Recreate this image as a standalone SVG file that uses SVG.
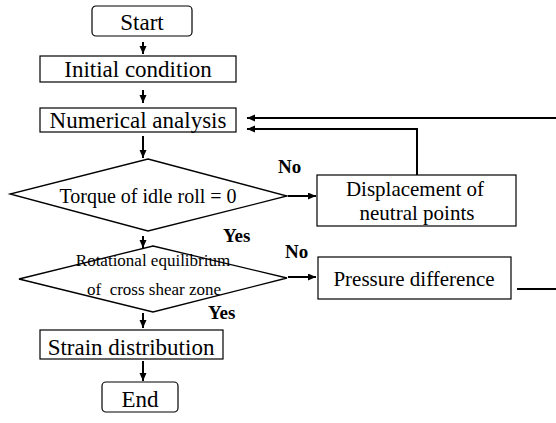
<svg xmlns="http://www.w3.org/2000/svg" width="556" height="423" viewBox="0 0 556 423">
<defs>
<marker id="ah" markerWidth="9" markerHeight="8" refX="8" refY="3.5" orient="auto" markerUnits="userSpaceOnUse">
<path d="M0,0 L8,3.5 L0,7 z" fill="#000"/>
</marker>
<style>
.box{fill:#fff;stroke:#000;stroke-width:1.2}
.dia{fill:#fff;stroke:#000;stroke-width:1.3}
.t{font-family:"Liberation Serif","Times New Roman",serif;fill:#000;text-anchor:middle}
.big{font-size:23px}
.mid{font-size:21px}
.tq{font-size:20px}
.sm{font-size:17px}
.lbl{font-family:"Liberation Serif","Times New Roman",serif;font-weight:bold;font-size:19px;fill:#000}
.c{fill:none;stroke:#000;stroke-width:2}
.ca{fill:none;stroke:#000;stroke-width:2;marker-end:url(#ah)}
</style>
</defs>
<rect width="556" height="423" fill="#fff"/>
<g id="connectors">
<line class="ca" x1="143" y1="42" x2="143" y2="54"/>
<line class="ca" x1="143" y1="90" x2="143" y2="103"/>
<line class="ca" x1="143" y1="136" x2="143" y2="158"/>
<line class="ca" x1="143" y1="236" x2="143" y2="248"/>
<line class="ca" x1="143" y1="313" x2="143" y2="328"/>
<line class="ca" x1="143" y1="361" x2="143" y2="381"/>
<line class="ca" x1="288" y1="196" x2="316" y2="196"/>
<line class="ca" x1="288" y1="277" x2="316" y2="277"/>
<line class="ca" x1="556" y1="118" x2="247" y2="118"/>
<polyline class="ca" points="417,175 417,129 247,129"/>
<line class="c" x1="517" y1="289" x2="556" y2="289"/>
</g>
<g id="start">
<rect class="box" x="92" y="6" width="100" height="30" rx="4"/>
<text class="t big" x="142" y="30">Start</text>
</g>
<g id="initial">
<rect class="box" x="40" y="56" width="196" height="26"/>
<text class="t big" x="138" y="77">Initial condition</text>
</g>
<g id="numerical">
<rect class="box" x="40" y="108" width="196" height="24"/>
<text class="t big" x="138" y="128">Numerical analysis</text>
</g>
<g id="torque">
<polygon class="dia" points="148,159 287,196 148,231 10,194"/>
<text class="t tq" x="148" y="203">Torque of idle roll = 0</text>
</g>
<g id="rotational">
<polygon class="dia" points="153,246 287,278 153,312 19,279"/>
<text class="t sm" x="153" y="266">Rotational equilibrium</text>
<text class="t sm" x="154" y="295" xml:space="preserve">of  cross shear zone</text>
</g>
<g id="displacement">
<rect class="box" x="317" y="175" width="199" height="51"/>
<text class="t mid" x="415" y="196">Displacement of</text>
<text class="t mid" x="417" y="220">neutral points</text>
</g>
<g id="pressure">
<rect class="box" x="318" y="257" width="193" height="42"/>
<text class="t mid" x="414" y="286">Pressure difference</text>
</g>
<g id="strain">
<rect class="box" x="40" y="330" width="183" height="29"/>
<text class="t big" x="131" y="355">Strain distribution</text>
</g>
<g id="end">
<rect class="box" x="102" y="382" width="76" height="30" rx="4"/>
<text class="t big" x="140" y="407">End</text>
</g>
<g id="labels">
<text class="lbl" x="278" y="173">No</text>
<text class="lbl" x="223" y="242">Yes</text>
<text class="lbl" x="285" y="258">No</text>
<text class="lbl" x="208" y="319">Yes</text>
</g>
</svg>
